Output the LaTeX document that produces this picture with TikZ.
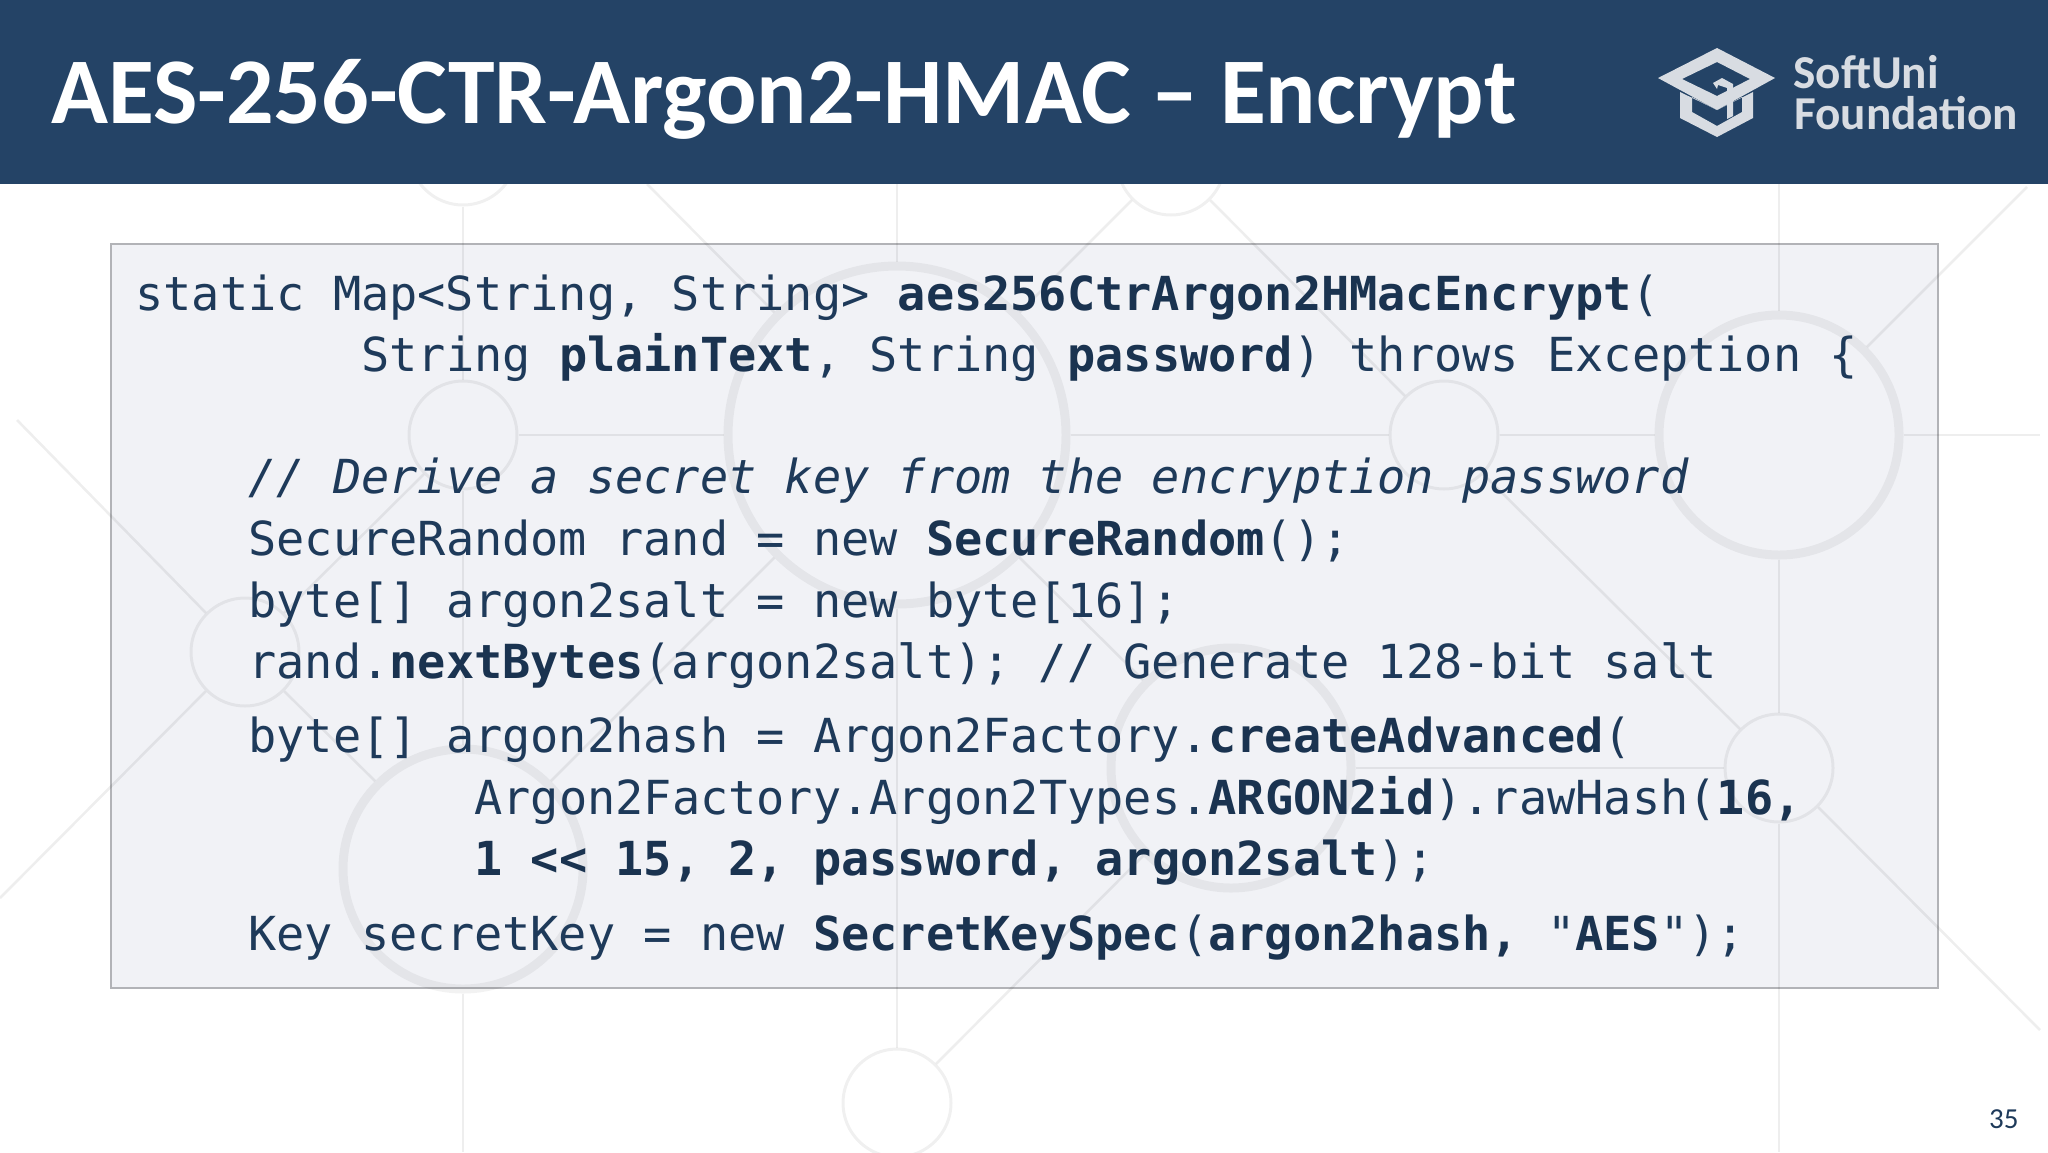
\documentclass[tikz,border=0pt]{standalone}
\usepackage{fontspec}
\setmainfont{Carlito}
\setmonofont{DejaVu Sans Mono}[Scale=1]
\usetikzlibrary{positioning}
\definecolor{headerblue}{HTML}{244366}
\definecolor{codeink}{HTML}{1E3A5A}
\definecolor{boldink}{HTML}{1A3350}
\definecolor{boxfill}{HTML}{F1F2F6}
\definecolor{boxline}{HTML}{B2B3B7}
\definecolor{logogrey}{HTML}{D8DCE2}
\tikzset{
  x=0.5pt,y=-0.5pt,
  hubsmall/.style={circle,draw=black,draw opacity=0.06,line width=1.5pt,minimum size=54pt,inner sep=0pt},
  hubbig/.style={circle,draw=black,draw opacity=0.05,line width=4.5pt,minimum size=120pt,inner sep=0pt},
  hubhuge/.style={hubbig,minimum size=169pt},
  wire/.style={draw=black,draw opacity=0.065,line width=1.3pt},
  codeline/.style={anchor=base west,inner sep=0pt,text=codeink,font=\ttfamily\fontsize{23.45}{28}\selectfont},
  logotext/.style={anchor=base west,inner sep=0pt,text=logogrey,font=\bfseries\fontsize{23.6}{26}\selectfont},
}
\newcommand{\kw}[1]{\textcolor{boldink}{\textbf{#1}}}
\begin{document}
\begin{tikzpicture}
  \useasboundingbox (0,0) rectangle (2048,1152);
  % panel first, the pattern shows through it
  \node[draw=boxline,line width=1.2pt,fill=boxfill,minimum width=913.5pt,minimum height=372pt,anchor=north west,inner sep=0pt] (codebox) at (110,243) {};
  % circles
  \node[hubsmall] (hubA) at (463,435) {};
  \node[hubhuge] (hubB) at (897,435) {};
  \node[hubsmall] (hubC) at (1444,435) {};
  \node[hubbig] (hubD) at (1779,435) {};
  \node[hubsmall] (hubE) at (245,652) {};
  \node[hubbig] (hubF) at (463,869) {};
  \node[hubbig] (hubG) at (1231,768) {};
  \node[hubsmall] (hubH) at (1779,768) {};
  \node[hubsmall] (hubI) at (897,1103) {};
  \node[hubsmall] (hubJ) at (463,151) {};
  \node[hubsmall] (hubK) at (1171,161) {};
  % free ends
  \coordinate (endA) at (463,1152);
  \coordinate (endB) at (897,184);
  \coordinate (endC) at (1779,184);
  \coordinate (endD) at (1779,1152);
  \coordinate (endE) at (2040,435);
  \coordinate (endF) at (17,420);
  \coordinate (endG) at (0,898);
  \coordinate (endH) at (647,184);
  \coordinate (endI) at (2027,187);
  \coordinate (endJ) at (2040,1030);
  % wires
  \draw[wire] (hubJ.south) -- (hubA.north);
  \draw[wire] (hubA.south) -- (hubF.north);
  \draw[wire] (hubF.south) -- (endA);
  \draw[wire] (endB) -- (hubB.north);
  \draw[wire] (hubB.south) -- (hubI.north);
  \draw[wire] (endC) -- (hubD.north);
  \draw[wire] (hubD.south) -- (hubH.north);
  \draw[wire] (hubH.south) -- (endD);
  \draw[wire] (hubA.east) -- (hubB.west);
  \draw[wire] (hubB.east) -- (hubC.west);
  \draw[wire] (hubC.east) -- (hubD.west);
  \draw[wire] (hubD.east) -- (endE);
  \draw[wire] (hubG.east) -- (hubH.west);
  \draw[wire] (endF) -- (hubE.135);
  \draw[wire] (hubE.225) -- (endG);
  \draw[wire] (hubE.-45) -- (hubF.135);
  \draw[wire] (hubE.45) -- (hubA.225);
  \draw[wire] (hubF.45) -- (hubB.225);
  \draw[wire] (endH) -- (hubB.135);
  \draw[wire] (hubB.45) -- (hubK.225);
  \draw[wire] (hubK.-45) -- (hubC.135);
  \draw[wire] (hubC.-45) -- (hubH.135);
  \draw[wire] (hubD.45) -- (endI);
  \draw[wire] (hubH.-45) -- (endJ);
  \draw[wire] (hubB.-45) -- (hubG.135);
  \draw[wire] (hubG.225) -- (hubI.45);
  % header goes over the pattern
  \fill[headerblue] (0,0) rectangle (2048,184);
  \node[anchor=base west,inner sep=0pt,text=white,font=\bfseries\fontsize{47}{50}\selectfont] (title) at (51,123) {AES-256-CTR-Argon2-HMAC – Encrypt};
  % logo
  \fill[logogrey,even odd rule] (1717,48) -- (1775,78) -- (1717,110) -- (1658,78) -- cycle
    (1717,62) -- (1750,79) -- (1717,96) -- (1682,79) -- cycle;
  \fill[logogrey,even odd rule] (1680,92) -- (1717,110) -- (1753,92) -- (1753,118) -- (1717,137) -- (1680,118) -- cycle
    (1692,97) -- (1717,110) -- (1742,97) -- (1742,112) -- (1717,126) -- (1692,112) -- cycle;
  \fill[logogrey] (1713,83) -- (1722,78) -- (1733,84) -- (1733,116) -- (1727,119) -- (1727,88) -- (1718,85) -- (1717,89) -- cycle;
  \node[logotext] (logotop) at (1793,88) {SoftUni};
  \node[logotext] (logobot) at (1794,129) {Foundation};
  % code
  \node[codeline] (lineA) at (135,310) {static Map<String, String> \kw{aes256CtrArgon2HMacEncrypt}(};
  \node[codeline] (lineB) at (361,371) {String \kw{plainText}, String \kw{password}) throws Exception \{};
  \node[codeline] (lineC) at (248,493) {\itshape // Derive a secret key from the encryption password};
  \node[codeline] (lineD) at (248,555) {SecureRandom rand = new \kw{SecureRandom}();};
  \node[codeline] (lineE) at (248,617) {byte[] argon2salt = new byte[16];};
  \node[codeline] (lineF) at (248,678) {rand.\kw{nextBytes}(argon2salt); // Generate 128-bit salt};
  \node[codeline] (lineG) at (248,752) {byte[] argon2hash = Argon2Factory.\kw{createAdvanced}(};
  \node[codeline] (lineH) at (474,814) {Argon2Factory.Argon2Types.\kw{ARGON2id}).rawHash(\kw{16,}};
  \node[codeline] (lineI) at (474,875) {\kw{1 << 15, 2, password, argon2salt});};
  \node[codeline] (lineJ) at (248,950) {Key secretKey = new \kw{SecretKeySpec}(\kw{argon2hash,} "\kw{AES}");};
  \node[anchor=base east,inner sep=0pt,text=codeink,font=\fontsize{14.5}{16}\selectfont] (pagenum) at (2019,1128) {35};
\end{tikzpicture}
\end{document}
